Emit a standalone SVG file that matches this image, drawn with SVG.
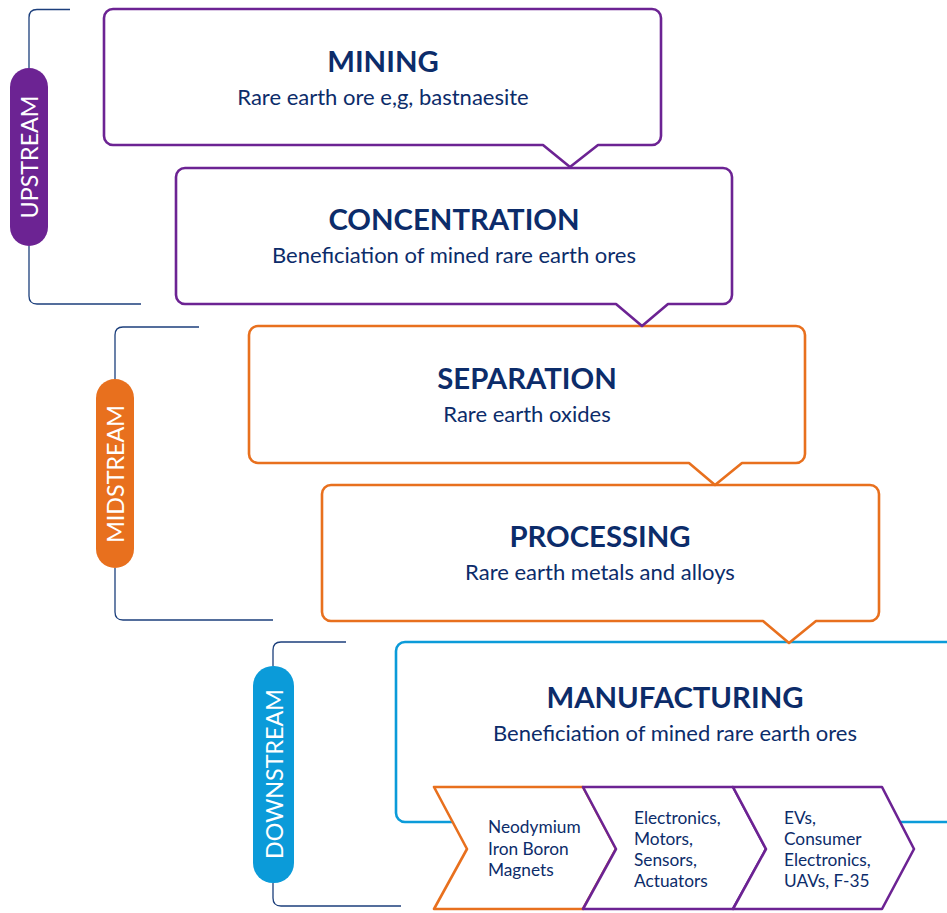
<svg xmlns="http://www.w3.org/2000/svg" width="947" height="913" viewBox="0 0 947 913">
<style>
.box{fill:#fff;stroke-width:2.6;stroke-linejoin:round}
.pur{stroke:#6c2393}
.org{stroke:#e8701e}
.blu{stroke:#0b9bd9}
.title{font-family:Lato,"Liberation Sans",sans-serif;font-weight:bold;font-size:29.3px;fill:#0c2c6a;text-anchor:middle}
.sub{font-family:Lato,"Liberation Sans",sans-serif;font-size:22px;fill:#0c2c6a;text-anchor:middle}
.chev{font-family:Lato,"Liberation Sans",sans-serif;font-size:17.3px;fill:#0c2c6a}
.pill{font-family:Lato,"Liberation Sans",sans-serif;font-size:23.3px;fill:#fff;text-anchor:middle;dominant-baseline:central}
.brk{fill:none;stroke:#1c3f7c;stroke-width:1.3}
</style>
<rect width="947" height="913" fill="#fff"/>
<g id="brackets">
<path class="brk" d="M70 9.5 H37 Q29 9.5 29 17.5 V68 M29 246 V296 Q29 304 37 304 H141"/>
<path class="brk" d="M199 327 H123 Q115 327 115 335 V379 M115 568 V612 Q115 620 123 620 H273"/>
<path class="brk" d="M346 642 H281 Q273 642 273 650 V666 M273 883 V898 Q273 906 281 906 H401"/>
</g>
<g id="upstream">
<rect x="10" y="68" width="38" height="178" rx="19" fill="#6c2393"/>
<text class="pill" transform="translate(29 157) rotate(-90)">UPSTREAM</text>
</g>
<g id="midstream">
<rect x="96" y="379" width="38" height="189" rx="19" fill="#e8701e"/>
<text class="pill" transform="translate(115 474) rotate(-90)">MIDSTREAM</text>
</g>
<g id="downstream">
<rect x="253" y="666" width="41" height="217" rx="20" fill="#0b9bd9"/>
<text class="pill" transform="translate(273.5 774) rotate(-90)">DOWNSTREAM</text>
</g>
<g id="manufacturing">
<rect class="box blu" x="396" y="642" width="600" height="180" rx="9"/>
<text class="title" x="675" y="708">MANUFACTURING</text>
<text class="sub" x="675" y="741">Beneficiation of mined rare earth ores</text>
</g>
<g id="processing">
<path class="box org" d="M331 485 H870 A9 9 0 0 1 879 494 V612 A9 9 0 0 1 870 621 H816 L789 643 L763 621 H331 A9 9 0 0 1 322 612 V494 A9 9 0 0 1 331 485 Z"/>
<text class="title" x="600" y="547">PROCESSING</text>
<text class="sub" x="600" y="580">Rare earth metals and alloys</text>
</g>
<g id="separation">
<path class="box org" d="M258 326 H796 A9 9 0 0 1 805 335 V454 A9 9 0 0 1 796 463 H742 L715 485 L689 463 H258 A9 9 0 0 1 249 454 V335 A9 9 0 0 1 258 326 Z"/>
<text class="title" x="527" y="389">SEPARATION</text>
<text class="sub" x="527" y="422">Rare earth oxides</text>
</g>
<g id="concentration">
<path class="box pur" d="M185 168 H723 A9 9 0 0 1 732 177 V295 A9 9 0 0 1 723 304 H668 L642 326 L616 304 H185 A9 9 0 0 1 176 295 V177 A9 9 0 0 1 185 168 Z"/>
<text class="title" x="454" y="230">CONCENTRATION</text>
<text class="sub" x="454" y="263">Beneficiation of mined rare earth ores</text>
</g>
<g id="mining">
<path class="box pur" d="M113 9 H652 A9 9 0 0 1 661 18 V136 A9 9 0 0 1 652 145 H598 L570 167 L543 145 H113 A9 9 0 0 1 104 136 V18 A9 9 0 0 1 113 9 Z"/>
<text class="title" x="383" y="72">MINING</text>
<text class="sub" x="383" y="105">Rare earth ore e,g, bastnaesite</text>
</g>
<g id="magnets">
<path class="box org" d="M434 787 H583 L616 849 L583 909 H434 L467 849 Z"/>
<text class="chev" x="488" y="833">Neodymium</text>
<text class="chev" x="488" y="855">Iron Boron</text>
<text class="chev" x="488" y="876">Magnets</text>
</g>
<g id="components">
<path class="box pur" d="M583 787 H733 L766 849 L733 909 H583 L616 849 Z"/>
<text class="chev" x="634" y="824">Electronics,</text>
<text class="chev" x="634" y="845">Motors,</text>
<text class="chev" x="634" y="866">Sensors,</text>
<text class="chev" x="634" y="887">Actuators</text>
</g>
<g id="products">
<path class="box pur" d="M733 787 H882 L914 849 L882 909 H733 L766 849 Z"/>
<text class="chev" x="784" y="824">EVs,</text>
<text class="chev" x="784" y="845">Consumer</text>
<text class="chev" x="784" y="866">Electronics,</text>
<text class="chev" x="784" y="887">UAVs, F-35</text>
</g>
</svg>
